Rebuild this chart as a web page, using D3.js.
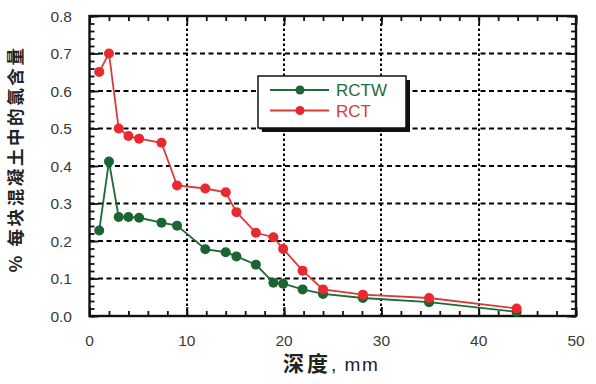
<!DOCTYPE html>
<html>
<head>
<meta charset="utf-8">
<script src="https://cdn.jsdelivr.net/npm/d3@7"></script>
<style>
body { margin: 0; background: #fff; }
svg text { font-family: "Liberation Sans", Arial, sans-serif; }
</style>
</head>
<body>
<div id="chart"></div>
<script>
// depth in mm, chloride content in %
var depths = [1, 2, 3, 4, 5.1, 7.4, 9, 11.9, 14, 15.1, 17.1, 18.9, 19.9, 21.9, 24, 28.1, 34.9, 43.9];
var rctw   = [0.228, 0.412, 0.264, 0.264, 0.262, 0.249, 0.241, 0.178, 0.170, 0.159, 0.137, 0.089, 0.086, 0.071, 0.059, 0.048, 0.037, 0.011];
var rct    = [0.651, 0.700, 0.500, 0.480, 0.473, 0.462, 0.348, 0.340, 0.330, 0.277, 0.222, 0.210, 0.179, 0.121, 0.071, 0.057, 0.048, 0.020];
var seriesNames = ["RCTW", "RCT"];
var xTicks = [0, 10, 20, 30, 40, 50];
var yTicks = [0, 0.1, 0.2, 0.3, 0.4, 0.5, 0.6, 0.7, 0.8];

var W = 596, H = 384;
var x = d3.scaleLinear().domain([0, 50]).range([89.5, 576]);
var y = d3.scaleLinear().domain([0, 0.8]).range([316, 16]);

var colors = { RCTW: { line: "#1f6a38", fill: "#1b6532" }, RCT: { line: "#d93a3a", fill: "#e8292d" } };

var svg = d3.select("#chart").append("svg")
    .attr("width", W)
    .attr("height", H);

// grid
svg.append("g")
    .selectAll("line")
    .data(yTicks.slice(1, -1))
    .enter()
    .append("line")
    .attr("x1", x(0)).attr("x2", x(50))
    .attr("y1", function(d) { return y(d); })
    .attr("y2", function(d) { return y(d); })
    .attr("stroke", "#000")
    .attr("stroke-width", 2)
    .attr("stroke-dasharray", "5,3.5");

svg.append("g")
    .selectAll("line")
    .data(xTicks.slice(1, -1))
    .enter()
    .append("line")
    .attr("x1", function(d) { return Math.round(x(d)); })
    .attr("x2", function(d) { return Math.round(x(d)); })
    .attr("y1", y(0)).attr("y2", y(0.8))
    .attr("stroke", "#000")
    .attr("stroke-width", 2)
    .attr("stroke-dasharray", "2.5,2.5");

// inward ticks via axes
var xMinor = d3.range(0, 51, 2);
var yMinor = d3.range(0, 41).map(function(i) { return i * 0.02; });

function tickAxis(axis, tr) {
    svg.append("g")
        .attr("transform", tr)
        .call(axis)
        .call(function(g) {
            g.select(".domain").remove();
            g.selectAll("text").remove();
            g.selectAll("line").attr("stroke", "#111").attr("stroke-width", 1.8);
        });
}
tickAxis(d3.axisTop(x).tickValues(xMinor).tickSize(5), "translate(0," + y(0) + ")");
tickAxis(d3.axisTop(x).tickValues(xTicks).tickSize(9), "translate(0," + y(0) + ")");
tickAxis(d3.axisBottom(x).tickValues(xMinor).tickSize(5), "translate(0," + y(0.8) + ")");
tickAxis(d3.axisBottom(x).tickValues(xTicks).tickSize(9), "translate(0," + y(0.8) + ")");
tickAxis(d3.axisRight(y).tickValues(yMinor).tickSize(5), "translate(" + x(0) + ",0)");
tickAxis(d3.axisRight(y).tickValues(yTicks).tickSize(9), "translate(" + x(0) + ",0)");
tickAxis(d3.axisLeft(y).tickValues(yMinor).tickSize(5), "translate(" + x(50) + ",0)");
tickAxis(d3.axisLeft(y).tickValues(yTicks).tickSize(9), "translate(" + x(50) + ",0)");

// frame
svg.append("rect")
    .attr("x", x(0)).attr("y", y(0.8))
    .attr("width", x(50) - x(0))
    .attr("height", y(0) - y(0.8))
    .attr("fill", "none")
    .attr("stroke", "#111")
    .attr("stroke-width", 2.4);

// tick labels
svg.append("g")
    .selectAll("text")
    .data(yTicks)
    .enter()
    .append("text")
    .attr("x", 72)
    .attr("y", function(d) { return y(d) + 5.5; })
    .attr("text-anchor", "end")
    .attr("font-size", 15.5)
    .attr("fill", "#3a3a3a")
    .text(function(d) { return d3.format(".1f")(d); });

svg.append("g")
    .selectAll("text")
    .data(xTicks)
    .enter()
    .append("text")
    .attr("x", function(d) { return x(d); })
    .attr("y", 346)
    .attr("text-anchor", "middle")
    .attr("font-size", 15.5)
    .attr("fill", "#3a3a3a")
    .text(function(d) { return d; });

// axis titles
svg.append("text")
    .attr("x", 283)
    .attr("y", 371)
    .attr("font-size", 19)
    .attr("fill", "#222")
    .html('<tspan font-family="Noto Sans CJK SC" font-weight="bold" font-size="21" letter-spacing="3">深度</tspan><tspan letter-spacing="1.5">, mm</tspan>');

svg.append("text")
    .attr("transform", "translate(22,159) rotate(-90)")
    .attr("text-anchor", "middle")
    .attr("font-size", 17.5)
    .attr("font-weight", "bold")
    .attr("letter-spacing", 2.6)
    .attr("fill", "#222")
    .style("font-family", "'Noto Sans CJK SC', sans-serif")
    .text("% 每块混凝土中的氯含量");

// series
var series = [
    { name: "RCTW", values: rctw },
    { name: "RCT", values: rct }
];

var line = d3.line()
    .x(function(d) { return x(d[0]); })
    .y(function(d) { return y(d[1]); });

series.forEach(function(s) {
    var pts = depths.map(function(d, i) { return [d, s.values[i]]; });
    var g = svg.append("g");
    g.append("path")
        .datum(pts)
        .attr("d", line)
        .attr("fill", "none")
        .attr("stroke", colors[s.name].line)
        .attr("stroke-width", 1.8);
    g.selectAll("circle")
        .data(pts)
        .enter()
        .append("circle")
        .attr("cx", function(d) { return x(d[0]); })
        .attr("cy", function(d) { return y(d[1]); })
        .attr("r", 5)
        .attr("fill", colors[s.name].fill);
});

// legend
var lg = svg.append("g").attr("transform", "translate(258,76)");
lg.append("rect")
    .attr("x", 4).attr("y", 4)
    .attr("width", 148).attr("height", 52)
    .attr("fill", "#111");
lg.append("rect")
    .attr("x", 0).attr("y", 0)
    .attr("width", 148).attr("height", 52)
    .attr("fill", "#fff")
    .attr("stroke", "#111")
    .attr("stroke-width", 1.5);

var lgItems = lg.selectAll("g.item")
    .data(seriesNames)
    .enter()
    .append("g")
    .attr("transform", function(d, i) { return "translate(0," + (14 + i * 20.5) + ")"; });
lgItems.append("line")
    .attr("x1", 12).attr("x2", 71)
    .attr("stroke", function(d) { return colors[d].line; })
    .attr("stroke-width", 1.8);
lgItems.append("circle")
    .attr("cx", 42)
    .attr("r", 4.5)
    .attr("fill", function(d) { return colors[d].fill; });
lgItems.append("text")
    .attr("x", 78)
    .attr("y", 6)
    .attr("font-size", 17)
    .attr("fill", function(d) { return colors[d].line; })
    .text(function(d) { return d; });
</script>
</body>
</html>
